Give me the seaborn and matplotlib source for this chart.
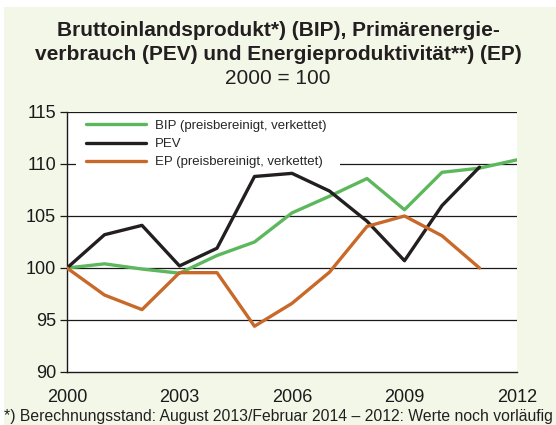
import numpy as np
import pandas as pd
import matplotlib
matplotlib.use("Agg")
import matplotlib.pyplot as plt
from matplotlib.patches import Rectangle
import seaborn as sns

years = list(range(2000, 2013))
bip = [100.0, 100.4, 99.9, 99.5, 101.2, 102.5, 105.3, 106.9, 108.6, 105.6, 109.2, 109.6, 110.4]
pev = [100.0, 103.2, 104.1, 100.2, 101.9, 108.8, 109.1, 107.4, 104.5, 100.7, 106.0, 109.7, None]
ep = [100.0, 97.4, 96.0, 99.55, 99.55, 94.4, 96.6, 99.6, 104.0, 105.0, 103.1, 100.0, None]
labels = ["BIP (preisbereinigt, verkettet)", "PEV", "EP (preisbereinigt, verkettet)"]
colors = ["#5DB85D", "#231F20", "#C8692A"]
xticks = [2000, 2003, 2006, 2009, 2012]
yticks = [90, 95, 100, 105, 110, 115]

rows = []
for lab, vals in zip(labels, [bip, pev, ep]):
    for y, v in zip(years, vals):
        if v is not None:
            rows.append({"Jahr": y, "Wert": v, "Reihe": lab})
df = pd.DataFrame(rows)

sns.set_theme(style="white")
plt.rcParams['font.family'] = ['Liberation Sans', 'DejaVu Sans']

bg = "#F3F7E8"
W, H = 556, 425
fig = plt.figure(figsize=(W/100, H/100), dpi=100, facecolor="white")
# light green panel background (thin white margin at top/left as in original)
fig.patches.append(Rectangle((4/W, 0), 1 - 4/W, 1 - 7/H, transform=fig.transFigure,
                             facecolor=bg, edgecolor="none", zorder=-10))

ax = fig.add_axes([67/W, 1 - 372/H, (517-67)/W, (372-112)/H])
ax.set_zorder(1)
ax.set_facecolor("white")

for yv in [95, 100, 105, 110, 115]:
    ax.axhline(yv, color="#1a1a1a", lw=0.9, zorder=1)

# white box behind legend (hides part of grid line)
ax.add_patch(Rectangle((76/W, 1 - 168/H), (340-76)/W, (168-115)/H, transform=fig.transFigure,
                       facecolor="white", edgecolor="none", zorder=1.5))

sns.lineplot(data=df, x="Jahr", y="Wert", hue="Reihe", hue_order=labels,
             palette=dict(zip(labels, colors)), lw=2.4, ax=ax, zorder=3,
             sort=False)

ax.set_xlim(2000, 2012)
ax.set_ylim(90, 115)
ax.set_xticks(xticks)
ax.set_yticks(yticks)
ax.set_xlabel("")
ax.set_ylabel("")
for s in ["top", "right"]:
    ax.spines[s].set_visible(False)
for s in ["left", "bottom"]:
    ax.spines[s].set_color("#1a1a1a")
    ax.spines[s].set_linewidth(1.0)
ax.tick_params(axis="y", which="both", left=True, length=5, width=0.9, color="#1a1a1a",
               labelsize=13, pad=3, labelcolor="#1a1a1a")
ax.tick_params(axis="x", bottom=False, labelsize=13, pad=6, labelcolor="#1a1a1a")

leg = ax.legend(loc="upper left", bbox_to_anchor=(81/W, 1 - 115/H),
                bbox_transform=fig.transFigure, frameon=False,
                fontsize=9.5, handlelength=4.6, handletextpad=0.65, labelspacing=0.46,
                borderpad=0.35, borderaxespad=0)
leg.set_zorder(2)
for line in leg.get_lines():
    line.set_linewidth(2.4)

fig.text(0.5, 1 - 30/H, "Bruttoinlandsprodukt*) (BIP), Primärenergie-", ha="center", va="center",
         fontsize=15, fontweight="bold", color="#231F20")
fig.text(0.5, 1 - 55/H, "verbrauch (PEV) und Energieproduktivität**) (EP)", ha="center", va="center",
         fontsize=15, fontweight="bold", color="#231F20")
fig.text(0.5, 1 - 79/H, "2000 = 100", ha="center", va="center",
         fontsize=15, color="#231F20")
fig.text(0.5, 1 - 417/H, "*) Berechnungsstand: August 2013/Februar 2014 – 2012: Werte noch vorläufig",
         ha="center", va="center", fontsize=11.3, color="#231F20")

fig.savefig("out.png", dpi=100, facecolor="white")
